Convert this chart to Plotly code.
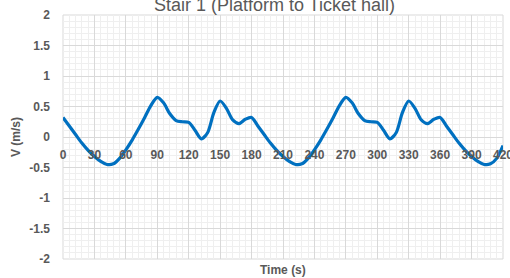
import plotly.graph_objects as go

time_s = [0, 6, 12, 18, 24, 30, 36, 42, 48, 54, 60, 66, 72, 78, 84, 90, 96, 102, 108, 114,
          120, 126, 132, 138, 144, 150, 156, 162, 168, 174, 180, 186, 192, 198, 204, 210,
          216, 222, 228, 234, 240, 246, 252, 258, 264, 270, 276, 282, 288, 294, 300, 306,
          312, 318, 324, 330, 336, 342, 348, 354, 360, 366, 372, 378, 384, 390, 396, 402,
          408, 414, 420]
velocity = [0.32, 0.18, 0.04, -0.10, -0.22, -0.32, -0.40, -0.45, -0.44, -0.35, -0.21, -0.05,
            0.13, 0.32, 0.52, 0.65, 0.56, 0.38, 0.27, 0.25, 0.24, 0.11, -0.03, 0.07, 0.40,
            0.59, 0.47, 0.28, 0.22, 0.29, 0.32, 0.18, 0.04, -0.10, -0.22, -0.32, -0.40,
            -0.45, -0.44, -0.35, -0.21, -0.05, 0.13, 0.32, 0.52, 0.65, 0.56, 0.38, 0.27,
            0.25, 0.24, 0.11, -0.03, 0.07, 0.40, 0.59, 0.47, 0.28, 0.22, 0.29, 0.32, 0.18,
            0.04, -0.10, -0.22, -0.32, -0.40, -0.45, -0.44, -0.35, -0.14]

x_ticks = [0, 30, 60, 90, 120, 150, 180, 210, 240, 270, 300, 330, 360, 390, 420]
y_ticks = [-2, -1.5, -1, -0.5, 0, 0.5, 1, 1.5, 2]
y_tick_labels = ["-2", "-1.5", "-1", "-0.5", "0", "0.5", "1", "1.5", "2"]

title_text = "Stair 1 (Platform to Ticket hall)"
x_title = "Time (s)"
y_title = "V (m/s)"

W, H = 510, 278
ML, MR, MT, MB = 63, 7, 15, 19
PH = H - MT - MB
PW = W - ML - MR

font_family = "Liberation Sans, Arial, sans-serif"
tick_font = dict(family=font_family, size=12, color="#595959", weight="bold")

fig = go.Figure()
fig.add_trace(go.Scatter(
    x=time_s, y=velocity, mode="lines",
    line=dict(color="#0070C0", width=3.2, shape="spline", smoothing=0.8),
    showlegend=False, hoverinfo="skip"))

fig.update_layout(
    width=W, height=H,
    margin=dict(l=ML, r=MR, t=MT, b=MB, autoexpand=False),
    paper_bgcolor="white", plot_bgcolor="white",
    xaxis=dict(range=[0, 420], tickvals=x_ticks, ticktext=[str(v) for v in x_ticks],
               anchor="free", position=0.5, showline=False, zeroline=False, automargin=False,
               showgrid=True, gridcolor="#d9d9d9", gridwidth=1,
               minor=dict(dtick=6, tick0=0, showgrid=True, gridcolor="#efefef", gridwidth=1),
               tickfont=tick_font, ticks="", ticklabelstandoff=9, ticklabeloverflow="allow"),
    yaxis=dict(range=[-2, 2], tickvals=y_ticks, ticktext=y_tick_labels,
               showline=False, zeroline=False, automargin=False,
               showgrid=True, gridcolor="#d9d9d9", gridwidth=1,
               minor=dict(dtick=0.1, tick0=0, showgrid=True, gridcolor="#efefef", gridwidth=1),
               tickfont=tick_font, ticks="", ticklabelstandoff=12),
)

fig.add_shape(type="rect", xref="paper", yref="paper", x0=0, x1=1, y0=0, y1=1,
              line=dict(color="#d9d9d9", width=1), layer="below")

# chart title (partly cut off at the top, as in the reference)
fig.add_annotation(text=title_text, xref="paper", yref="paper",
                   x=(274 - ML) / PW, y=(H - MB - 17) / PH,
                   xanchor="center", yanchor="bottom", showarrow=False,
                   font=dict(family=font_family, size=18, color="#595959"))

fig.add_annotation(text=x_title, xref="paper", yref="paper", x=0.5, y=-11 / PH,
                   xanchor="center", yanchor="middle", showarrow=False,
                   font=dict(family=font_family, size=12, color="#595959", weight="bold"))

fig.add_annotation(text=y_title, xref="paper", yref="paper", x=(16 - ML) / PW, y=0.5,
                   xanchor="center", yanchor="middle", showarrow=False, textangle=-90,
                   font=dict(family=font_family, size=12, color="#595959", weight="bold"))

fig.write_html("out.html", config={"displayModeBar": False},
               post_script="document.body.style.margin='0';document.body.style.overflow='hidden';")
